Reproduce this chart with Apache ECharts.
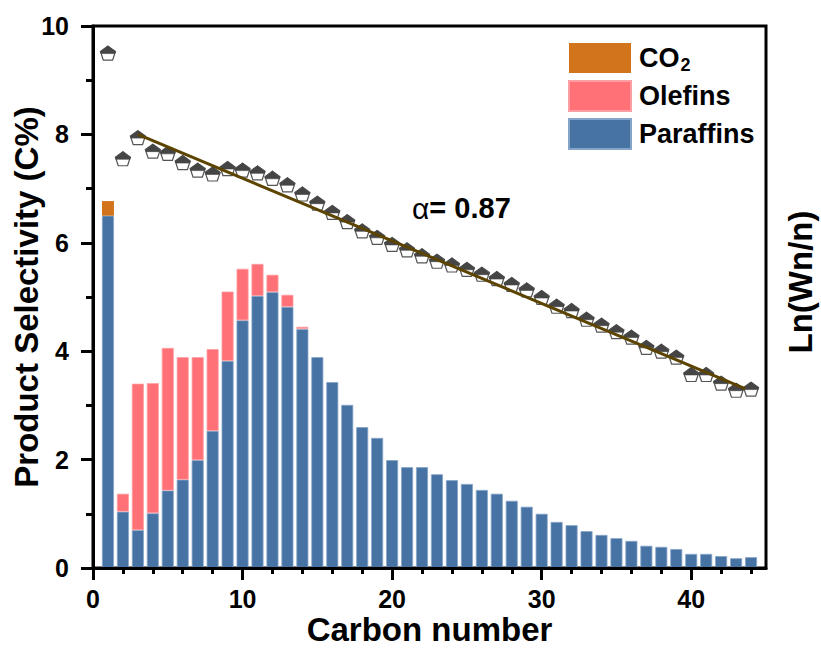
<!DOCTYPE html>
<html>
<head>
<meta charset="utf-8">
<script src="https://cdn.jsdelivr.net/npm/echarts@6/dist/echarts.min.js"></script>
<style>
  html, body { margin: 0; padding: 0; background: #fff; }
  #chart { width: 821px; height: 649px; }
</style>
</head>
<body>
<div id="chart"></div>
<script>
// Carbon number of each bar / point
const carbonNumbers = [1, 2, 3, 4, 5, 6, 7, 8, 9, 10, 11, 12, 13, 14, 15, 16, 17, 18, 19, 20, 21, 22,
  23, 24, 25, 26, 27, 28, 29, 30, 31, 32, 33, 34, 35, 36, 37, 38, 39, 40, 41, 42, 43, 44];

// Paraffin selectivity (C%) for C1..C44
const paraffins = [6.50, 1.04, 0.70, 1.01, 1.43, 1.63, 1.99, 2.53, 3.82, 4.57, 5.02, 5.09, 4.82, 4.41,
  3.89, 3.43, 3.01, 2.60, 2.40, 1.99, 1.86, 1.86, 1.73, 1.62, 1.55, 1.44, 1.37, 1.24, 1.13, 1.00,
  0.85, 0.79, 0.68, 0.61, 0.55, 0.50, 0.41, 0.39, 0.35, 0.26, 0.26, 0.22, 0.18, 0.20];

// Olefin selectivity (C%), only present for C2..C14
const olefinCarbon = [2, 3, 4, 5, 6, 7, 8, 9, 10, 11, 12, 13, 14];
const olefins = [0.33, 2.70, 2.40, 2.63, 2.26, 1.90, 1.51, 1.28, 0.95, 0.59, 0.32, 0.22, 0.04];

// CO2 selectivity, drawn on top of the C1 bar
const co2Carbon = [1];
const co2 = [0.27];

// ASF plot: Ln(Wn/n) for C1..C44
const lnWn = [9.50, 7.55, 7.94, 7.69, 7.65, 7.48, 7.34, 7.27, 7.37, 7.34, 7.29, 7.19, 7.07, 6.90,
  6.73, 6.56, 6.39, 6.22, 6.10, 5.97, 5.87, 5.76, 5.66, 5.59, 5.51, 5.42, 5.34, 5.23, 5.13, 4.99,
  4.83, 4.75, 4.59, 4.48, 4.36, 4.26, 4.07, 4.00, 3.89, 3.57, 3.57, 3.41, 3.28, 3.30];

// Linear ASF fit, end points
const fitCarbon = [3, 43.6];
const fitLn = [8.00, 3.31];

// Axis ticks
const xMax = 45;
const xMajorTicks = [0, 10, 20, 30, 40];
const xMinorTicks = [2, 4, 6, 8, 12, 14, 16, 18, 22, 24, 26, 28, 32, 34, 36, 38, 42, 44];

const FONT = '"Liberation Sans", Arial, Helvetica, sans-serif';
const zip = (xs, ys) => xs.map((x, i) => [x, ys[i]]);

// Hidden category slots 0..xMax so stacked bars sit on the same positions as the value axis
const barSlots = Array.from({ length: xMax + 1 }, (_, i) => String(i));

// Pentagon marker: full outline + dark upper half
const pentagonPath = 'path://M0,-1 L0.951,-0.309 L0.588,0.809 L-0.588,0.809 L-0.951,-0.309 Z';
const pentagonTopPath = 'path://M0,-1 L0.951,-0.309 L0.882,-0.0955 L-0.882,-0.0955 L-0.951,-0.309 Z';

const chart = echarts.init(document.getElementById('chart'), null, { renderer: 'svg' });

const axisLabelStyle = { color: '#000', fontSize: 25, fontWeight: 'bold', fontFamily: FONT };

chart.setOption({
  animation: false,
  backgroundColor: '#fff',
  grid: {
    left: 93, right: 55, top: 26, bottom: 81,
    outerBoundsMode: 'none', containLabel: false,
    show: true, borderColor: '#000', borderWidth: 3, backgroundColor: 'transparent'
  },
  legend: {
    orient: 'vertical',
    left: 563, top: 38,
    itemWidth: 62, itemHeight: 30, itemGap: 6,
    icon: 'rect',
    data: ['CO2', 'Olefins', 'Paraffins'],
    formatter: name => name === 'CO2' ? '{n|CO}{s|2}' : '{n|' + name + '}',
    textStyle: {
      color: '#000', fontFamily: FONT, fontWeight: 'bold', fontSize: 27,
      padding: [0, 0, 0, 3],
      rich: {
        n: { color: '#000', fontFamily: FONT, fontWeight: 'bold', fontSize: 27 },
        s: { color: '#000', fontFamily: FONT, fontWeight: 'bold', fontSize: 18, padding: [14, 0, 0, 1] }
      }
    }
  },
  xAxis: [
    {
      // category slots used by the stacked bars
      type: 'category', data: barSlots, boundaryGap: false, show: false
    },
    {
      type: 'value', min: 0, max: xMax, position: 'bottom', z: 10,
      name: 'Carbon number', nameLocation: 'middle', nameGap: 45, nameMoveOverlap: false,
      nameTextStyle: { color: '#000', fontSize: 33, lineHeight: 33, fontWeight: 'bold', fontFamily: FONT },
      axisLine: { show: true, lineStyle: { color: '#000', width: 3 } },
      axisTick: { show: true, length: 12, customValues: xMajorTicks, lineStyle: { color: '#000', width: 3 } },
      axisLabel: Object.assign({ margin: 18, customValues: xMajorTicks }, axisLabelStyle),
      splitLine: { show: false }
    },
    {
      type: 'value', min: 0, max: xMax, position: 'bottom', z: 10,
      axisLine: { show: false },
      axisTick: { show: true, length: 6, customValues: xMinorTicks, lineStyle: { color: '#000', width: 3 } },
      axisLabel: { show: false },
      splitLine: { show: false }
    }
  ],
  yAxis: [
    {
      type: 'value', min: 0, max: 10, interval: 2, z: 10,
      name: 'Product Selectivity (C%)', nameLocation: 'middle', nameGap: 50, nameMoveOverlap: false,
      nameTextStyle: { color: '#000', fontSize: 33, lineHeight: 33, fontWeight: 'bold', fontFamily: FONT },
      axisLine: { show: true, lineStyle: { color: '#000', width: 3 } },
      axisTick: { show: true, length: 12, lineStyle: { color: '#000', width: 3 } },
      minorTick: { show: true, splitNumber: 2, length: 7, lineStyle: { color: '#000', width: 3 } },
      axisLabel: Object.assign({ margin: 24 }, axisLabelStyle),
      splitLine: { show: false }
    }
  ],
  graphic: [
    {
      type: 'text', x: 800, y: 282, rotation: Math.PI / 2, z: 20,
      style: {
        text: 'Ln(Wn/n)', fill: '#000', fontSize: 33, fontWeight: 'bold', fontFamily: FONT,
        align: 'center', verticalAlign: 'middle'
      }
    },
    {
      type: 'text', x: 412, y: 208, z: 20,
      style: {
        text: '{a|α}{b|= 0.87}', verticalAlign: 'middle',
        rich: {
          a: { fill: '#000', fontSize: 30, fontFamily: FONT, fontWeight: 'normal' },
          b: { fill: '#000', fontSize: 29, fontFamily: FONT, fontWeight: 'bold' }
        }
      }
    }
  ],
  series: [
    {
      name: 'Paraffins', type: 'bar', stack: 'sel', barWidth: 12, xAxisIndex: 0,
      itemStyle: { color: '#4673a4', borderColor: '#86a4c8', borderWidth: 0.8 },
      data: zip(carbonNumbers, paraffins)
    },
    {
      name: 'Olefins', type: 'bar', stack: 'sel', barWidth: 12, xAxisIndex: 0,
      itemStyle: { color: '#ff7177', borderColor: '#ff9ea2', borderWidth: 0.8 },
      data: zip(olefinCarbon, olefins)
    },
    {
      name: 'CO2', type: 'bar', stack: 'sel', barWidth: 12, xAxisIndex: 0,
      itemStyle: { color: '#d1741c' },
      data: zip(co2Carbon, co2)
    },
    {
      name: 'ASF', type: 'scatter', z: 4, xAxisIndex: 1,
      symbol: pentagonPath, symbolSize: [15, 14],
      itemStyle: { color: '#ffffff', borderColor: '#555555', borderWidth: 1.2, opacity: 1 },
      data: zip(carbonNumbers, lnWn)
    },
    {
      name: 'ASF top', type: 'scatter', z: 5, xAxisIndex: 1,
      symbol: pentagonTopPath, symbolSize: [15, 7.5], symbolOffset: [0, -3.3],
      itemStyle: { color: '#454545', borderColor: '#454545', borderWidth: 0.6, opacity: 1 },
      data: zip(carbonNumbers, lnWn)
    },
    {
      name: 'Fit', type: 'line', z: 6, xAxisIndex: 1, showSymbol: false, symbol: 'none',
      lineStyle: { color: '#5c4400', width: 3 },
      data: zip(fitCarbon, fitLn)
    }
  ]
});
</script>
</body>
</html>
